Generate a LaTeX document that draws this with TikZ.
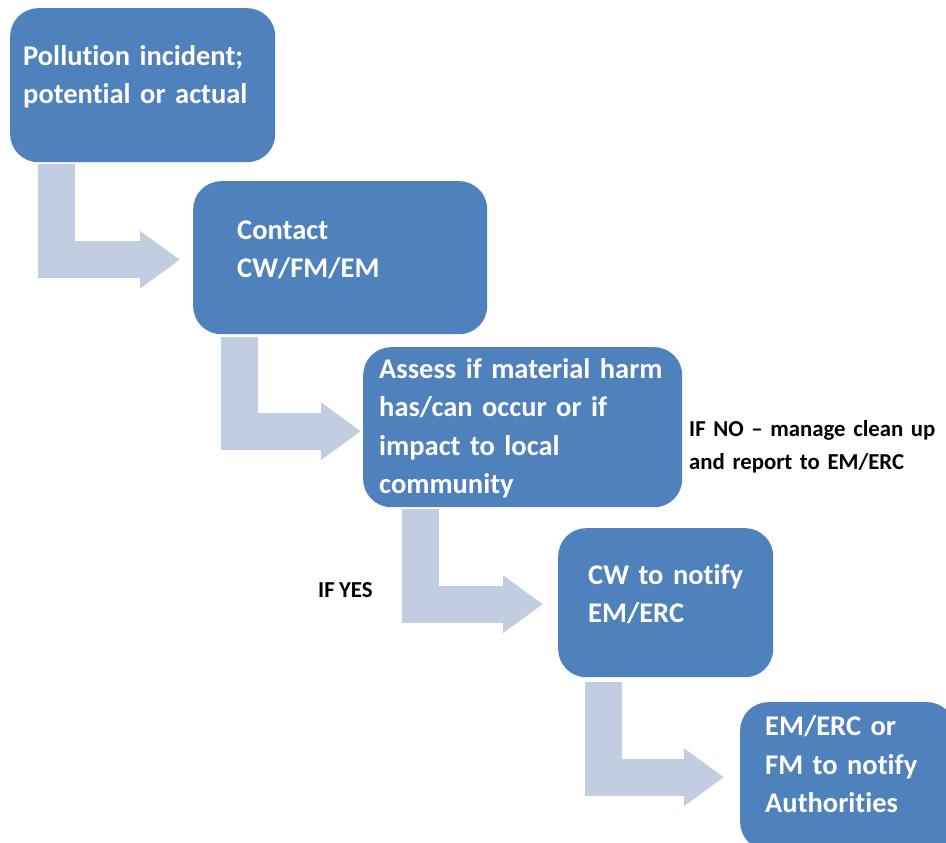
\documentclass[tikz,border=0pt]{standalone}
\usepackage{fontspec}
\setmainfont{Carlito}[Ligatures=NoCommon,WordSpace=0.85]
\usetikzlibrary{arrows.meta,calc,positioning}
\definecolor{boxblue}{RGB}{79,129,189}
\definecolor{arrowblue}{RGB}{195,205,226}
\tikzset{
	flowbox/.style={
		rectangle, anchor=north west, rounded corners=28pt, inner sep=0pt,
		fill=boxblue, text=white, align=left,
		font=\bfseries\fontsize{28.5}{38.5}\selectfont
	},
	%
	flowarrow/.style={
		draw=arrowblue, line width=37pt,
		-{Triangle[width=55pt,length=40pt]}
	},
	%
	sidetext/.style={
		anchor=base west, inner sep=0pt, align=left,
		font=\bfseries\fontsize{22.8}{33}\selectfont
	}
}

\begin{document}
\begin{tikzpicture}[x=1pt,y=-1pt]
\useasboundingbox (0,0) rectangle (946,843);
\clip (0,0) rectangle (946,843);
\node(incident)[flowbox, minimum width=265pt, minimum height=154pt, text width=239pt, text height=57pt, text depth=97pt] at (10,8) {Pollution incident;\\potential or actual};
\node(contact)[flowbox, minimum width=294pt, minimum height=153pt, text width=206pt, text height=58pt, text depth=95pt] at (193,181) {Contact\\CW/FM/EM};
\node(assess)[flowbox, minimum width=319pt, minimum height=160pt, text width=287pt, text height=31pt, text depth=129pt] at (363,347) {Assess if material harm\\has/can occur or if\\impact to local\\community};
\node(notify)[flowbox, minimum width=215pt, minimum height=149pt, text width=155pt, text height=56pt, text depth=93pt] at (558,528) {CW to notify\\EM/ERC};
\node(authorities)[flowbox, minimum width=215pt, minimum height=148pt, text width=165pt, text height=33.5pt, text depth=114.5pt] at (740,702) {EM/ERC or\\FM to notify\\Authorities};
% bent connectors
\draw[flowarrow] ($(incident.south west)+(46.5,2)$) |- ($(contact.west)+(-13,2)$);
\draw[flowarrow] ($(contact.south west)+(46,3)$) |- ($(assess.west)+(-2,4)$);
\draw[flowarrow] ($(assess.south west)+(57.5,2)$) |- ($(notify.west)+(-15,1.5)$);
\draw[flowarrow] ($(notify.south west)+(45,5)$) |- ($(authorities.west)+(-16,1)$);
\node(ifno)[sidetext, text width=280pt] at (689,436) {IF NO -- manage clean up\\and report to EM/ERC};
\node(ifyes)[sidetext] at (318,597) {IF YES};
\end{tikzpicture}
\end{document}
